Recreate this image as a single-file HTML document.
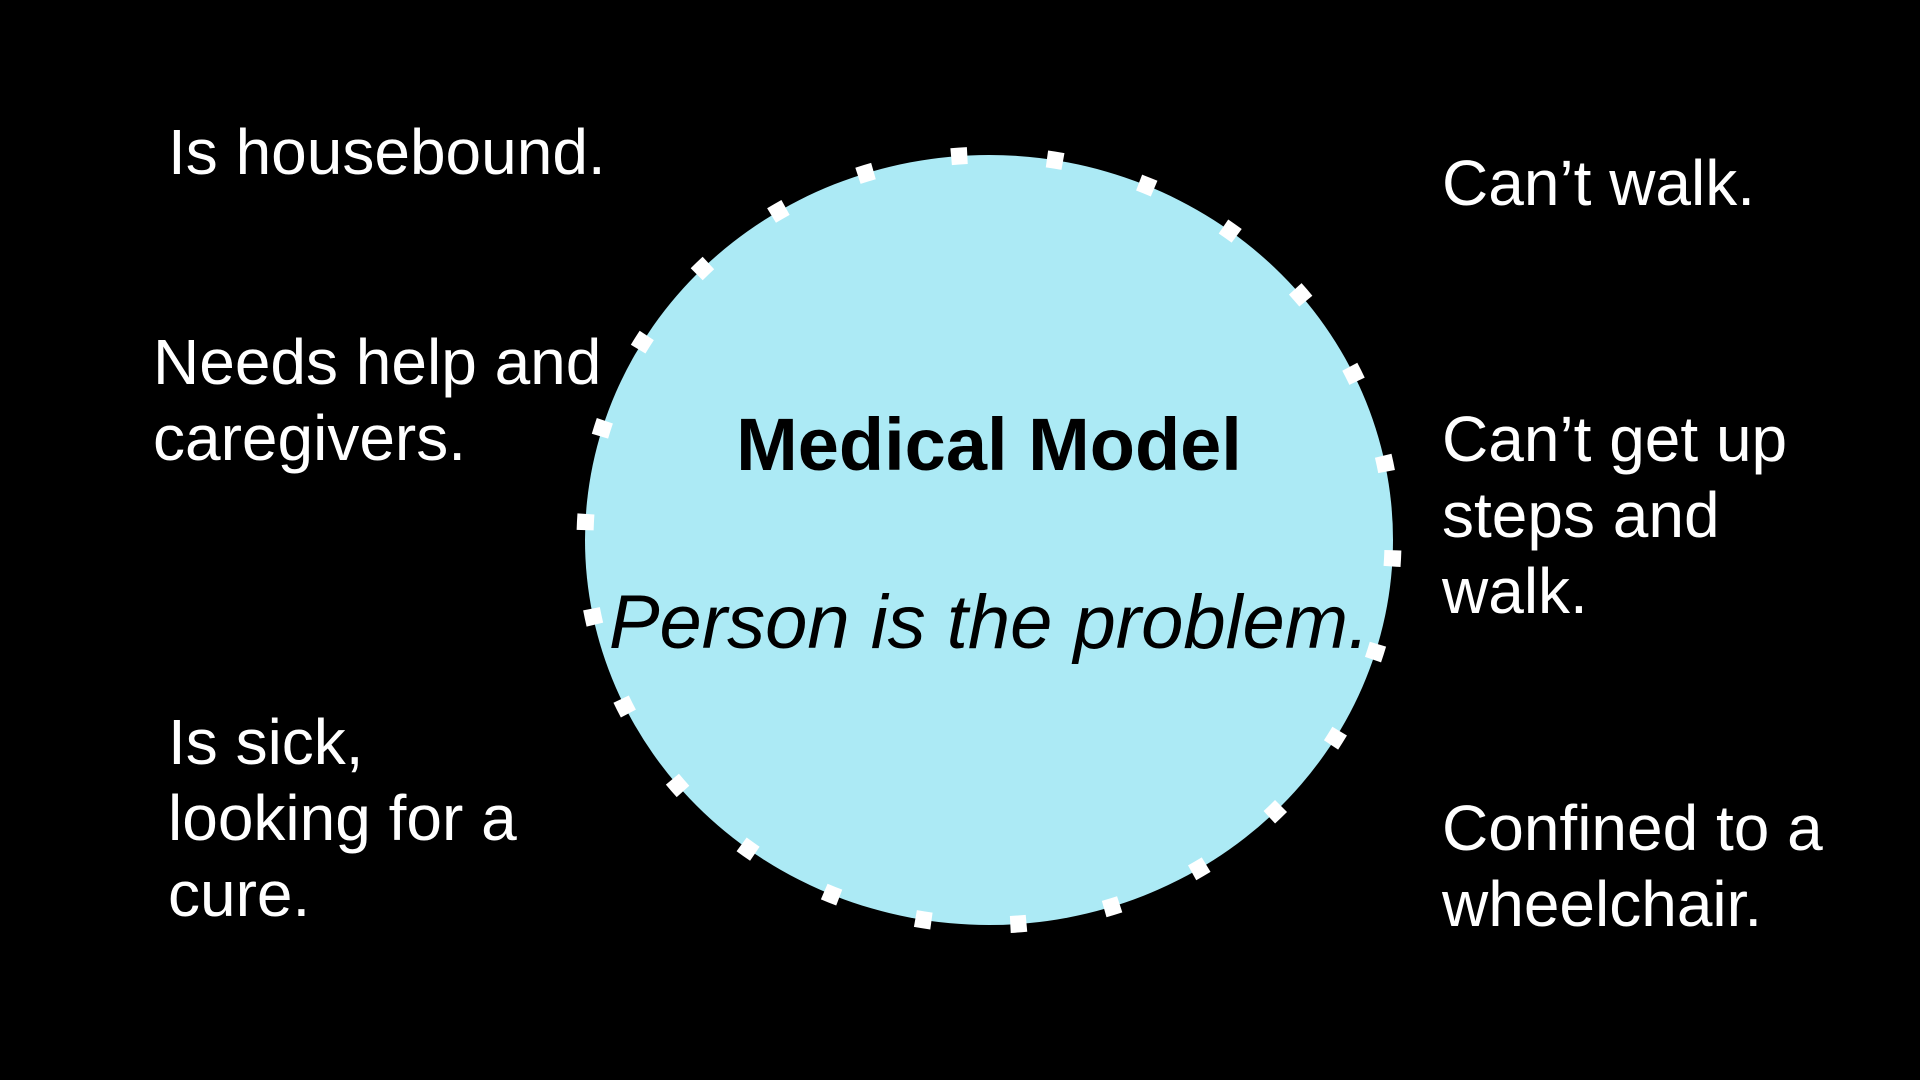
<!DOCTYPE html>
<html><head><meta charset="utf-8"><style>
html,body{margin:0;padding:0;background:#000;}
body{width:1920px;height:1080px;position:relative;overflow:hidden;font-family:"Liberation Sans",Arial,sans-serif;color:#fff;}
.t{position:absolute;font-size:64px;line-height:76px;white-space:nowrap;}
svg{position:absolute;left:0;top:0;}
</style></head><body>
<svg width="1920" height="1080">
<ellipse cx="989" cy="540" rx="404" ry="385" fill="#aceaf5"/>
<path d="M989,155 A404,385 0 1 1 989,925 A404,385 0 1 1 989,155" fill="none" stroke="#fff" stroke-width="17" pathLength="2600" stroke-dasharray="17 83" stroke-dashoffset="39"/>
<text x="989" y="470" text-anchor="middle" font-family="Liberation Sans, Arial, sans-serif" font-weight="bold" font-size="74" fill="#000">Medical Model</text>
<text x="989" y="648" text-anchor="middle" font-family="Liberation Sans, Arial, sans-serif" font-style="italic" font-size="76" fill="#000">Person is the problem.</text>
</svg>
<div class="t" style="left:168px;top:114px">Is housebound.</div>
<div class="t" style="left:153px;top:324px">Needs help and<br>caregivers.</div>
<div class="t" style="left:168px;top:704px">Is sick,<br>looking for a<br>cure.</div>
<div class="t" style="left:1442px;top:145px">Can’t walk.</div>
<div class="t" style="left:1442px;top:401px">Can’t get up<br>steps and<br>walk.</div>
<div class="t" style="left:1442px;top:790px">Confined to a<br>wheelchair.</div>
</body></html>
